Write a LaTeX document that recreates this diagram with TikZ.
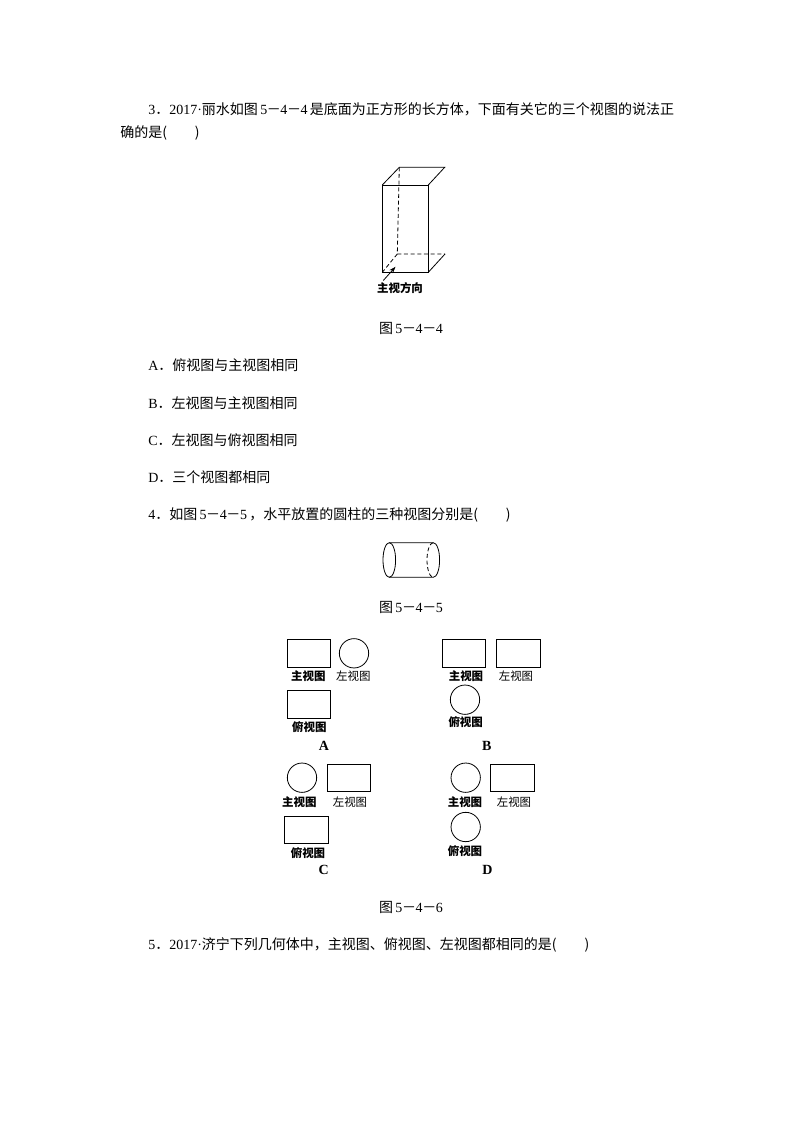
\documentclass[tikz,border=0pt]{standalone}
\usepackage{fontspec}
\usetikzlibrary{arrows.meta}
\setmainfont{Noto Sans CJK SC}
\newfontfamily\lat{Liberation Serif}
\newcommand{\LL}[1]{{\lat #1}}
\newcommand{\FN}[3]{\LL{#1}\kern-0.3pt－\kern-0.3pt\LL{#2}\kern-0.3pt－\kern-0.3pt\LL{#3}}
\tikzset{
  x=0.75pt,y=-0.75pt,
  body/.style={anchor=west,inner sep=0pt,font=\fontsize{10.5pt}{12pt}\selectfont},
  figcap/.style={anchor=center,inner sep=0pt,font=\fontsize{10.5pt}{12pt}\selectfont},
  lab/.style={anchor=center,inner sep=0pt,font=\fontsize{8.6pt}{10pt}\selectfont\bfseries},
  lablight/.style={anchor=center,inner sep=0pt,font=\fontsize{8.6pt}{10pt}\selectfont},
  letter/.style={anchor=center,inner sep=0pt,font=\fontsize{10.5pt}{11pt}\selectfont\lat\bfseries},
  ln/.style={draw=black,line width=0.6pt},
  hid/.style={draw=black,line width=0.6pt,dash pattern=on 3pt off 2pt},
  rnd/.style={draw=black,line width=0.6pt,circle,minimum size=22pt,inner sep=0pt},
}
\begin{document}
\begin{tikzpicture}
\useasboundingbox (0,0) rectangle (794,1123);
\fill[white] (0,0) rectangle (794,1123);
% text
\node[body] (q3a) at (148,109) {\LL{3}．\LL{2017·}丽水如图\,\FN{5}{4}{4}\,是底面为正方形的长方体，下面有关它的三个视图的说法正};
\node[body] (q3b) at (120,133) {确的是(\hspace{1.99em})};
\node[body] (oa) at (148,365.5) {\LL{A}．俯视图与主视图相同};
\node[body] (ob) at (148,403) {\LL{B}．左视图与主视图相同};
\node[body] (oc) at (148,440) {\LL{C}．左视图与俯视图相同};
\node[body] (od) at (148,477.5) {\LL{D}．三个视图都相同};
\node[body] (q4) at (148,515) {\LL{4}．如图\,\FN{5}{4}{5}\,，水平放置的圆柱的三种视图分别是(\hspace{1.99em})};
\node[body] (q5) at (148,945) {\LL{5}．\LL{2017·}济宁下列几何体中，主视图、俯视图、左视图都相同的是(\hspace{1.99em})};
\node[figcap] (f4) at (411,328.5) {图\,\FN{5}{4}{4}};
\node[figcap] (f5) at (411,607) {图\,\FN{5}{4}{5}};
\node[figcap] (f6) at (411,907) {图\,\FN{5}{4}{6}};
% cuboid
\coordinate (fa) at (382.3,185);
\coordinate (fb) at (428.3,185);
\coordinate (fc) at (428.3,272.3);
\coordinate (fd) at (382.3,272.3);
\coordinate (ba) at (399.3,167.3);
\coordinate (bb) at (444.7,167.3);
\coordinate (bc) at (445,254);
\coordinate (bd) at (397.3,254);
\draw[ln] (fa) rectangle (fc);
\draw[ln] (fa) -- (ba) -- (bb) -- (fb);
\draw[ln] (fc) -- (bc);
\draw[hid] (ba) -- (bd) -- (bc);
\draw[hid] (bd) -- (fd);
\coordinate (arrS) at (383.3,280.5);
\coordinate (arrE) at (395.5,266.8);
\draw[ln,-{Stealth[length=5pt,width=3.5pt]}] (arrS) -- (arrE);
\node[lab] (vd) at (400,288) {主视方向};
% cylinder
\coordinate (cl) at (389.3,560);
\coordinate (ctl) at (389.3,542.7);
\coordinate (ctr) at (433.3,542.7);
\coordinate (cbl) at (389.3,577.3);
\draw[ln] (cl) ellipse [x radius=4.725pt,y radius=12.975pt];
\draw[ln] (ctl) -- (ctr) arc[start angle=90,end angle=-90,x radius=4.725pt,y radius=12.975pt] -- (cbl);
\draw[hid] (ctr) arc[start angle=90,end angle=270,x radius=4.725pt,y radius=12.975pt];
% A
\draw[ln] (287.3,639.3) rectangle (330.7,667.3);
\node[rnd] (ac) at (354,653.3) {};
\node[lab] (a1) at (308.3,676) {主视图};
\node[lablight] (a2) at (353.3,676) {左视图};
\draw[ln] (287.3,690.3) rectangle (330.7,718.3);
\node[lab] (a3) at (309.3,726.7) {俯视图};
\node[letter] (la) at (324,745.7) {A};
% B
\draw[ln] (442.3,639.3) rectangle (485.7,667.3);
\draw[ln] (496,639.3) rectangle (540.3,667.3);
\node[lab] (b1) at (466,676) {主视图};
\node[lablight] (b2) at (516,676) {左视图};
\node[rnd] (bcir) at (465,699.7) {};
\node[lab] (b3) at (465.7,721.7) {俯视图};
\node[letter] (lb) at (486.7,745.7) {B};
% C
\node[rnd] (ccir) at (302,777.7) {};
\draw[ln] (327.3,764.3) rectangle (370.7,791.3);
\node[lab] (c1) at (299.3,801.7) {主视图};
\node[lablight] (c2) at (350,801.7) {左视图};
\draw[ln] (284.3,816.3) rectangle (328.7,843.3);
\node[lab] (c3) at (308,853.3) {俯视图};
\node[letter] (lc) at (323.7,870) {C};
% D
\node[rnd] (dcir) at (465.7,777.7) {};
\draw[ln] (490.3,764.3) rectangle (534.7,791.3);
\node[lab] (d1) at (465,801.7) {主视图};
\node[lablight] (d2) at (514,801.7) {左视图};
\node[rnd] (dcir2) at (465.7,827) {};
\node[lab] (d3) at (465,850.7) {俯视图};
\node[letter] (ld) at (487.3,870) {D};
\end{tikzpicture}
\end{document}
